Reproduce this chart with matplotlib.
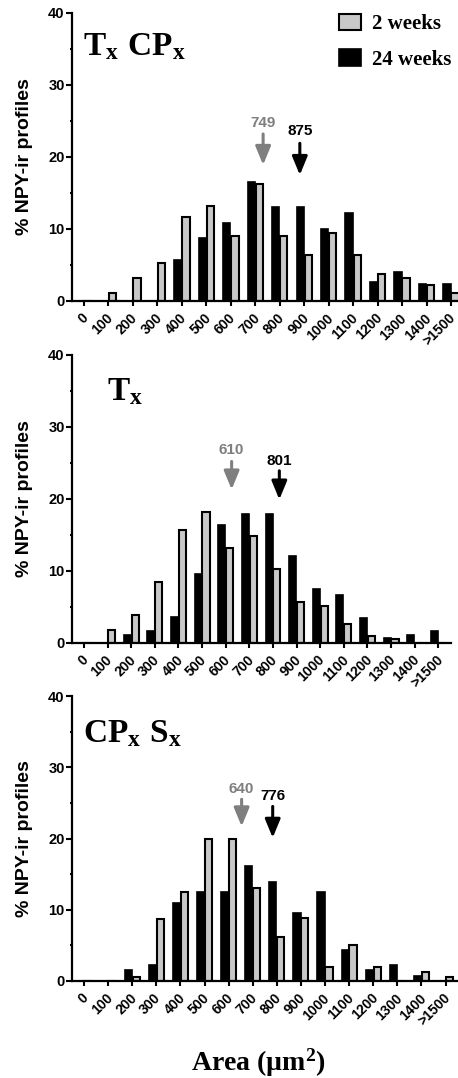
import matplotlib
matplotlib.use('Agg')
import matplotlib.pyplot as plt
import numpy as np

plt.rcParams['mathtext.fontset'] = 'custom'
plt.rcParams['mathtext.rm'] = 'Liberation Serif:bold'
plt.rcParams['mathtext.it'] = 'Liberation Serif:bold'
plt.rcParams['mathtext.bf'] = 'Liberation Serif:bold'

W, H = 458, 1078

# ---------------- data ----------------
bins = ['0', '100', '200', '300', '400', '500', '600', '700', '800', '900',
        '1000', '1100', '1200', '1300', '1400', '>1500']

txcpx_2wk = [0, 1.1, 3.2, 5.3, 11.6, 13.2, 9.0, 16.3, 9.0, 6.4, 9.5, 6.4, 3.7, 3.2, 2.2, 1.1]
txcpx_24wk = [0, 0, 0, 0, 5.7, 8.7, 10.9, 16.5, 13.0, 13.0, 10.0, 12.2, 2.7, 4.0, 2.3, 2.3]

tx_2wk = [0, 1.7, 3.9, 8.5, 15.7, 18.2, 13.1, 14.8, 10.2, 5.6, 5.1, 2.6, 0.9, 0.45, 0, 0]
tx_24wk = [0, 0, 1.1, 1.6, 3.6, 9.5, 16.4, 17.9, 17.9, 12.0, 7.5, 6.6, 3.5, 0.6, 1.1, 1.6]

cpxsx_2wk = [0, 0, 0.6, 8.7, 12.5, 20.0, 20.0, 13.1, 6.2, 8.8, 1.9, 5.0, 1.9, 0, 1.2, 0.6]
cpxsx_24wk = [0, 0, 1.5, 2.2, 11.0, 12.5, 12.5, 16.2, 13.9, 9.5, 12.5, 4.4, 1.5, 2.2, 0.7, 0]

titles = [r'$\mathrm{T}_{\mathrm{x}}\ \mathrm{CP}_{\mathrm{x}}$',
          r'$\mathrm{T}_{\mathrm{x}}$',
          r'$\mathrm{CP}_{\mathrm{x}}\ \mathrm{S}_{\mathrm{x}}$']

# mean soma areas (labels) and arrow positions (category units)
mean_2wk = [749, 610, 640]
mean_24wk = [875, 801, 776]
arrow_x_2wk = [7.32, 6.25, 6.54]
arrow_x_24wk = [8.82, 8.27, 7.83]

series = [(txcpx_2wk, txcpx_24wk), (tx_2wk, tx_24wk), (cpxsx_2wk, cpxsx_24wk)]

# ---------------- layout (pixels) ----------------
panels = [dict(y0=301, y40=13, right=458, sp=24.47, title_x=83, title_y=55,
               a2=(24.7, 23.2, 18.9), a24=(23.6, 21.9, 17.5)),
          dict(y0=642.7, y40=355, right=451, sp=23.62, title_x=107, title_y=400.7,
               a2=(26.8, 25.2, 21.3), a24=(25.3, 23.9, 19.9)),
          dict(y0=981, y40=696, right=457, sp=24.1, title_x=83, title_y=742,
               a2=(27.0, 25.5, 21.7), a24=(25.9, 24.5, 20.1))]

GRAY = '#c8c8c8'
ARROW_GRAY = '#7f7f7f'
SANS = 'Liberation Sans'
SERIF = 'Liberation Serif'

fig = plt.figure(figsize=(W / 100, H / 100), dpi=100)

x = np.arange(len(bins))
bw = 0.30
off = 0.165

axes = []
for i, p in enumerate(panels):
    left = 72
    ax = fig.add_axes([left / W, 1 - p['y0'] / H, (p['right'] - left) / W,
                       (p['y0'] - p['y40']) / H])
    axes.append(ax)
    g, b = series[i]
    bb = ax.bar(x - off, b, width=bw, color='black', edgecolor='black', lw=1.2,
                label='24 weeks')
    bg = ax.bar(x + off, g, width=bw, color=GRAY, edgecolor='black', lw=1.5,
                label='2 weeks')
    ax.set_ylim(0, 40)
    ax.set_xlim(-(84 - left) / p['sp'], (p['right'] - 84) / p['sp'])
    for s in ['top', 'right']:
        ax.spines[s].set_visible(False)
    for s in ['left', 'bottom']:
        ax.spines[s].set_linewidth(1.6)
    ax.set_yticks([0, 10, 20, 30, 40])
    ax.set_yticks([5, 15, 25, 35], minor=True)
    ax.tick_params(axis='y', which='major', length=4.3, width=1.5, pad=1,
                   labelsize=10.5)
    ax.tick_params(axis='y', which='minor', length=1.8, width=1.5)
    ax.tick_params(axis='x', which='major', length=3.6, width=1.5, pad=2)
    ax.set_xticks(x)
    ax.set_xticklabels(bins, rotation=45, ha='right', va='center',
                       rotation_mode='anchor', fontsize=10,
                       fontfamily=SANS, fontweight='bold')
    for lab in ax.get_yticklabels():
        lab.set_fontfamily(SANS)
        lab.set_fontweight('bold')
    for lab in ax.get_xticklabels():
        lab.set_transform(lab.get_transform() +
                          matplotlib.transforms.ScaledTranslation(0.025, -0.07, fig.dpi_scale_trans))

    # title
    fig.text(p['title_x'] / W, 1 - p['title_y'] / H, titles[i], fontsize=24,
             ha='left', va='baseline')

    # y label
    fig.text(25 / W, 1 - (p['y0'] + p['y40']) / 2 / H, '% NPY-ir profiles',
             rotation=90, ha='center', va='center', fontsize=14,
             fontfamily=SANS, fontweight='bold')

    # mean arrows
    for xv, lab, (ty, ys, ye), col in [(arrow_x_2wk[i], mean_2wk[i], p['a2'], ARROW_GRAY),
                                       (arrow_x_24wk[i], mean_24wk[i], p['a24'], 'black')]:
        ax.annotate('', xy=(xv, ye), xytext=(xv, ys),
                    arrowprops=dict(arrowstyle='-|>,head_width=0.33,head_length=0.8',
                                    lw=2.2, color=col, mutation_scale=14,
                                    shrinkA=0, shrinkB=0))
        ax.text(xv, ty, str(lab), ha='center', va='center', fontsize=11,
                fontfamily=SANS, fontweight='bold', color=col)

    if i == 0:
        handles = [bg, bb]
        ax.legend(handles, ['2 weeks', '24 weeks'], loc='upper left',
                  bbox_to_anchor=(339 / W, 1 - 14 / H), bbox_transform=fig.transFigure,
                  frameon=False, borderpad=0, borderaxespad=0,
                  handlelength=1.06, handleheight=0.82, handletextpad=0.5,
                  labelspacing=0.72,
                  prop=dict(family=SERIF, weight='bold', size=15))

fig.text(258 / W, 1 - 1063 / H, r'Area (µm$^{\mathrm{2}}$)', ha='center', va='center',
         fontsize=20, fontfamily=SERIF, fontweight='bold')

fig.savefig('out.png', dpi=100)
